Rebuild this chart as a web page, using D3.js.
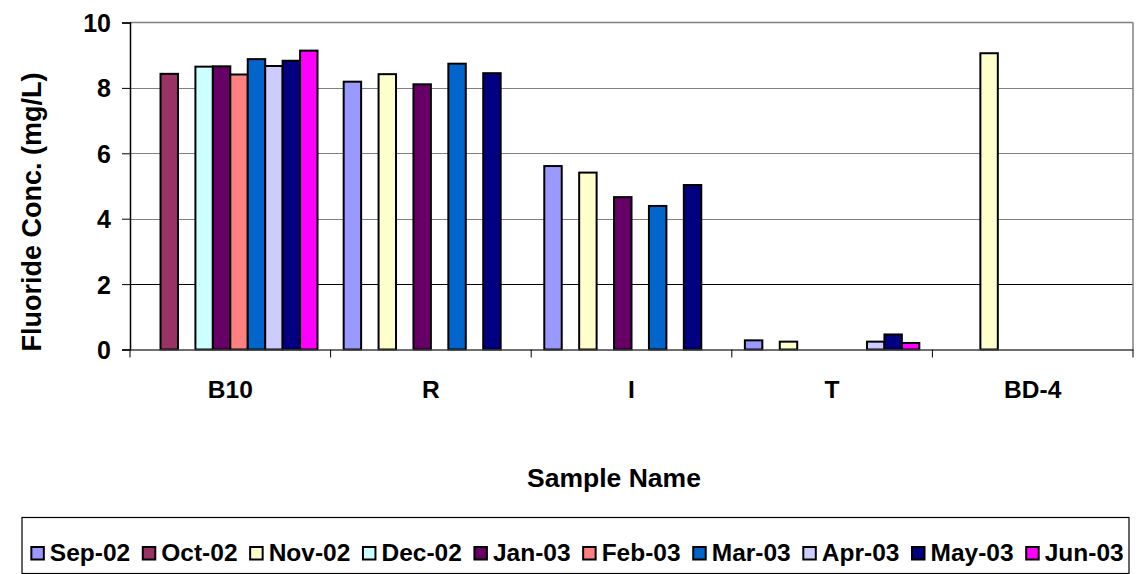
<!DOCTYPE html>
<html>
<head>
<meta charset="utf-8">
<script src="https://cdn.jsdelivr.net/npm/d3@7"></script>
<style>
  body { margin: 0; background: #fff; }
  svg { display: block; }
  text { font-family: "Liberation Sans", Arial, sans-serif; font-weight: bold; fill: #000; }
</style>
</head>
<body>
<svg id="chart" width="1136" height="574"></svg>
<script>
const categories = ["B10", "R", "I", "T", "BD-4"];
const seriesNames = ["Sep-02", "Oct-02", "Nov-02", "Dec-02", "Jan-03", "Feb-03", "Mar-03", "Apr-03", "May-03", "Jun-03"];
const seriesColors = ["#9999FF", "#993366", "#FFFFCC", "#CCFFFF", "#660066", "#FF8080", "#0066CC", "#CCCCFF", "#000080", "#FF00FF"];
// values per series, in category order (null = no sample)
const sep02 = [null, 8.19, 5.61, 0.28, null];
const oct02 = [8.43, null, null, null, null];
const nov02 = [null, 8.42, 5.41, 0.24, 9.06];
const dec02 = [8.65, null, null, null, null];
const jan03 = [8.66, 8.11, 4.66, null, null];
const feb03 = [8.41, null, null, null, null];
const mar03 = [8.88, 8.74, 4.39, null, null];
const apr03 = [8.67, null, null, 0.24, null];
const may03 = [8.83, 8.45, 5.03, 0.46, null];
const jun03 = [9.14, null, null, 0.20, null];
const seriesValues = [sep02, oct02, nov02, dec02, jan03, feb03, mar03, apr03, may03, jun03];
const yTicks = [0, 2, 4, 6, 8, 10];
const yTitle = "Fluoride Conc. (mg/L)";
const xTitle = "Sample Name";

(function () {
const svg = d3.select("#chart");
svg.append("rect").attr("width", 1136).attr("height", 574).attr("fill", "#fff");

const pLeft = 130, pRight = 1133, pTop = 22.5, pBottom = 349.5;
const FONT = "Liberation Sans, Arial, sans-serif";

const x0 = d3.scaleBand().domain(categories).range([pLeft, pRight]).padding(0);
const x1 = d3.scaleBand().domain(seriesNames).range([0, x0.bandwidth()]).paddingInner(0).paddingOuter(0.75);
const y = d3.scaleLinear().domain([0, 10]).range([pBottom, pTop]);

// gridlines
svg.append("g").selectAll("line").data(yTicks.filter(t => t > 0 && t < 10)).join("line")
  .attr("x1", pLeft).attr("x2", pRight)
  .attr("y1", d => Math.round(y(d)) + 0.5).attr("y2", d => Math.round(y(d)) + 0.5)
  .attr("stroke", d => d === 2 ? "#000" : "#808080").attr("stroke-width", 1);

// plot border top/right
svg.append("line").attr("x1", pLeft).attr("x2", pRight).attr("y1", pTop).attr("y2", pTop)
  .attr("stroke", "#808080").attr("stroke-width", 1.5);
svg.append("line").attr("x1", pRight).attr("x2", pRight).attr("y1", pTop).attr("y2", pBottom)
  .attr("stroke", "#808080").attr("stroke-width", 1.5);

// bars
const barData = [];
seriesNames.forEach((s, si) => {
  categories.forEach((c, ci) => {
    const v = seriesValues[si][ci];
    if (v !== null) barData.push({ s, c, v, color: seriesColors[si] });
  });
});
svg.append("g").selectAll("rect").data(barData).join("rect")
  .attr("x", d => x0(d.c) + x1(d.s))
  .attr("width", x1.bandwidth())
  .attr("y", d => y(d.v))
  .attr("height", d => y(0) - y(d.v))
  .attr("fill", d => d.color)
  .attr("stroke", "#000")
  .attr("stroke-width", 2);

// y axis
const yAxis = d3.axisLeft(y).tickValues(yTicks).tickSize(8).tickPadding(11).tickFormat(d3.format("d"));
const gy = svg.append("g").attr("transform", `translate(${pLeft},0)`).call(yAxis);
gy.select(".domain").attr("stroke", "#000").attr("stroke-width", 1.5);
gy.selectAll(".tick line").attr("stroke", "#000");
gy.selectAll(".tick text").style("font-size", "25px").style("font-family", FONT).style("font-weight", "bold").attr("fill", "#000").attr("dy", "0.36em");

// x axis
const xAxis = d3.axisBottom(x0).tickSize(0).tickPadding(0);
const gx = svg.append("g").attr("transform", `translate(0,${pBottom})`).call(xAxis);
gx.select(".domain").attr("stroke", "#404040").attr("stroke-width", 1.5);
gx.selectAll(".tick text").style("font-size", "24.5px").style("font-family", FONT).style("font-weight", "bold").attr("fill", "#000").attr("dy", 0).attr("y", 48.5);
// category separator ticks
gx.append("g").selectAll("line").data(categories.concat(["__end"])).join("line")
  .attr("x1", (d, i) => i < categories.length ? x0(d) : pRight)
  .attr("x2", (d, i) => i < categories.length ? x0(d) : pRight)
  .attr("y1", 0).attr("y2", 8).attr("stroke", "#000").attr("stroke-width", 1);

// axis titles
svg.append("text").attr("transform", "translate(41,212) rotate(-90)")
  .attr("text-anchor", "middle").style("font-size", "27px").text(yTitle);
svg.append("text").attr("x", 614).attr("y", 487)
  .attr("text-anchor", "middle").style("font-size", "26.5px").text(xTitle);

// legend
const legend = svg.append("g");
legend.append("rect").attr("x", 22).attr("y", 517.5).attr("width", 1107).attr("height", 56)
  .attr("fill", "#fff").attr("stroke", "#000").attr("stroke-width", 1.2);
const items = legend.append("g");
let cx = 0;
seriesNames.forEach((s, i) => {
  const g = items.append("g").attr("transform", `translate(${cx},0)`);
  g.append("rect").attr("x", 0).attr("y", -14).attr("width", 12.5).attr("height", 12.5)
    .attr("fill", seriesColors[i]).attr("stroke", "#000").attr("stroke-width", 2);
  const t = g.append("text").attr("x", 18.5).attr("y", 0).style("font-size", "24.5px").text(s);
  const w = t.node().getComputedTextLength();
  cx += 18.5 + w + 12.6;
});
const totalW = cx - 12.6;
items.attr("transform", `translate(${577.5 - totalW / 2},561)`);
})();
</script>
</body>
</html>
